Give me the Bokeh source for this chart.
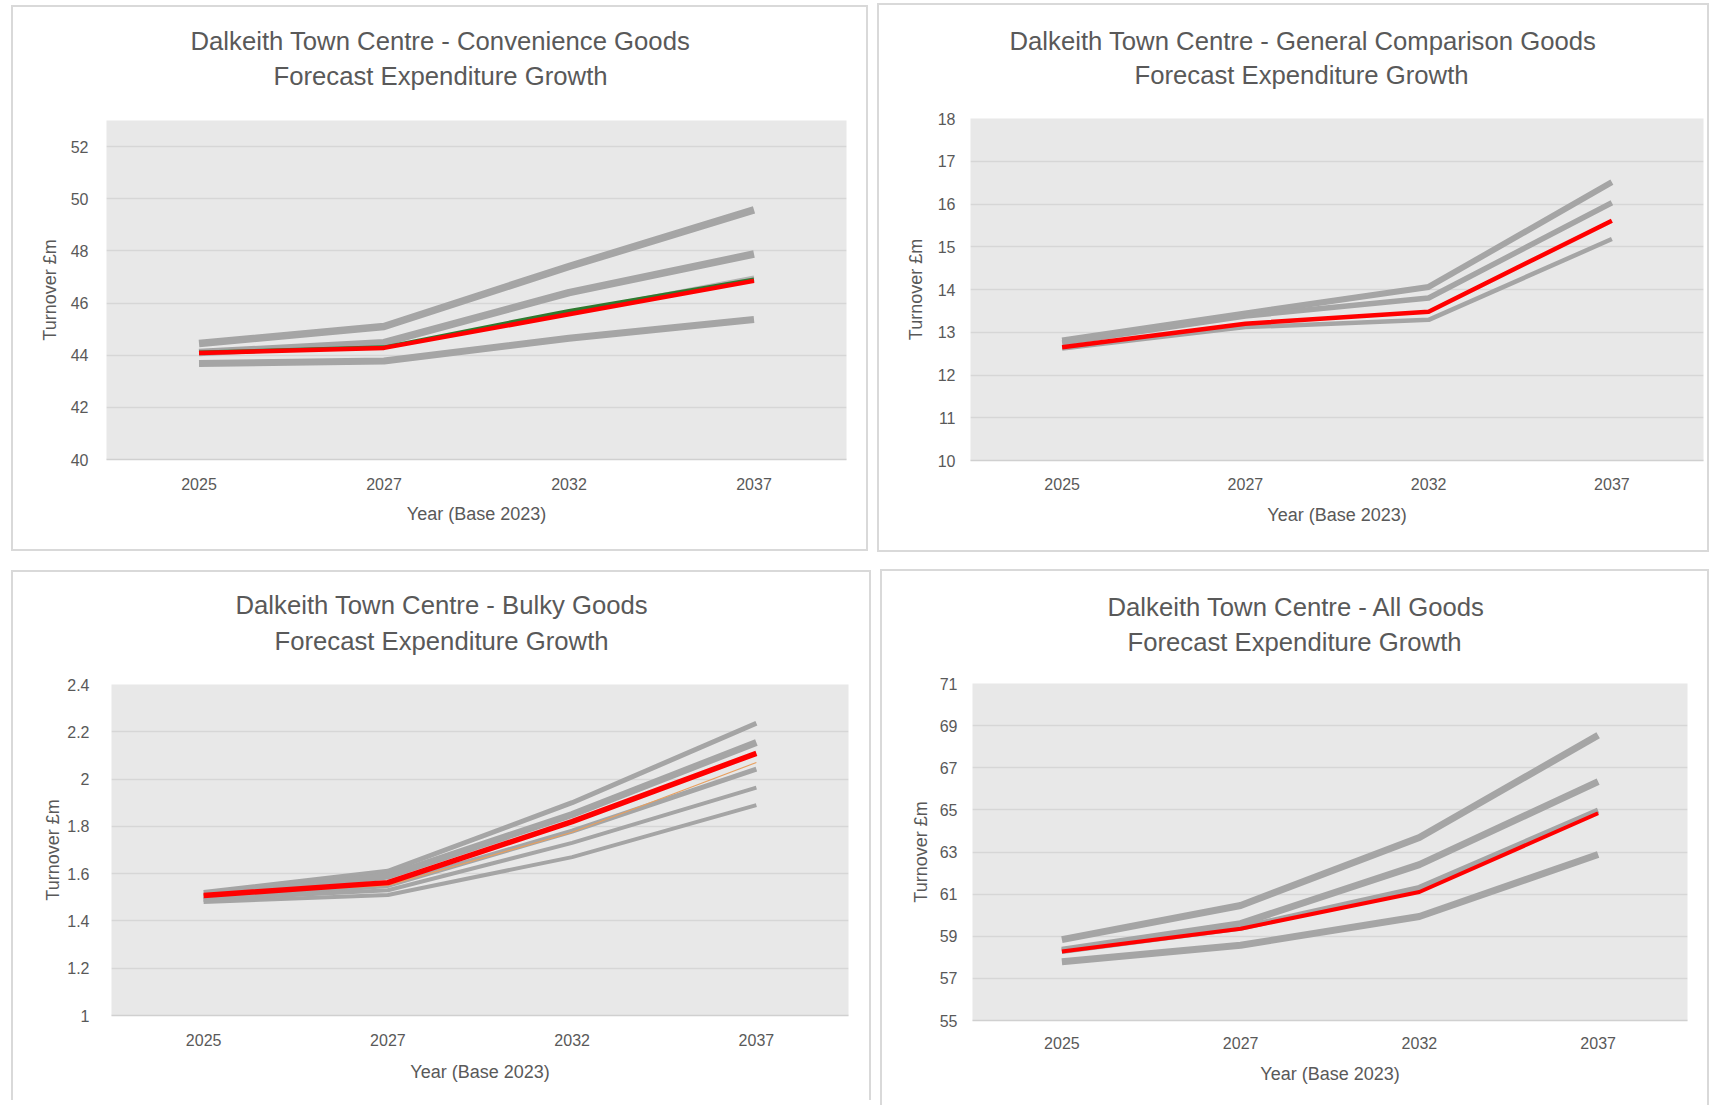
from bokeh.plotting import figure
from bokeh.models import FactorRange, Range1d, FixedTicker, NumeralTickFormatter, Title
from bokeh.layouts import row, column
from bokeh.embed import file_html
from bokeh.resources import INLINE

years = ["2025", "2027", "2032", "2037"]

# Convenience goods turnover (£m)
conv_high = [44.45, 45.10, 47.40, 49.57]
conv_upper = [44.10, 44.48, 46.40, 47.88]
conv_central = [44.10, 44.30, 45.65, 47.00]
conv_alt = [44.10, 44.30, 45.70, 46.90]
conv_base = [44.08, 44.28, 45.57, 46.85]
conv_low = [43.68, 43.78, 44.65, 45.37]
conv_ticks = [40, 42, 44, 46, 48, 50, 52]

# General comparison goods turnover (£m)
comp_high = [12.81, 13.44, 14.06, 16.51]
comp_upper = [12.75, 13.38, 13.80, 16.03]
comp_base = [12.65, 13.20, 13.48, 15.61]
comp_low = [12.62, 13.12, 13.29, 15.18]
comp_ticks = [10, 11, 12, 13, 14, 15, 16, 17, 18]

# Bulky goods turnover (£m)
bulky_high = [1.52, 1.61, 1.90, 2.236]
bulky_upper = [1.50, 1.59, 1.85, 2.155]
bulky_mid = [1.49, 1.55, 1.78, 2.042]
bulky_alt = [1.51, 1.55, 1.775, 2.07]
bulky_lower = [1.49, 1.53, 1.73, 1.964]
bulky_low = [1.48, 1.51, 1.67, 1.89]
bulky_base = [1.508, 1.562, 1.82, 2.109]
bulky_ticks = [1.0, 1.2, 1.4, 1.6, 1.8, 2.0, 2.2, 2.4]

# All goods turnover (£m)
all_high = [58.84, 60.46, 63.69, 68.54]
all_upper = [58.34, 59.60, 62.40, 66.34]
all_central = [58.30, 59.40, 61.30, 64.97]
all_base = [58.28, 59.36, 61.10, 64.84]
all_low = [57.79, 58.57, 59.94, 62.88]
all_ticks = [55, 57, 59, 61, 63, 65, 67, 69, 71]

GREY = "#A5A5A5"
RED = "#FF0000"
TEXT = "#595959"
FONT = "Liberation Sans"
EDGE = "#D9D9D9"
SUBTITLE = "Forecast Expenditure Growth"
TITLE_SIZE = "25.7px"


def stacked_titles(p, heading, offsets, standoffs):
    # two heading lines stacked above the plot frame, centred on the chart box
    sub = Title(text=SUBTITLE, align="left", offset=offsets[1], standoff=standoffs[1],
                text_font=FONT, text_font_size=TITLE_SIZE, text_font_style="normal",
                text_color=TEXT)
    main = Title(text=heading, align="left", offset=offsets[0], standoff=standoffs[0],
                 text_font=FONT, text_font_size=TITLE_SIZE, text_font_style="normal",
                 text_color=TEXT)
    p.add_layout(sub, "above")
    p.add_layout(main, "above")


def make_panel(ticks, y_end, series, size, borders, edge_shadow,
               label_fmt="0", y_tick_gap=12, y_title_gap=8,
               x_tick_gap=12, x_title_gap=11):
    width, height = size
    left, top, right, bottom = borders
    p = figure(
        width=width, height=height,
        x_range=FactorRange(*years),
        y_range=Range1d(ticks[0], y_end),
        output_backend="svg", toolbar_location=None, tools="",
        min_border_left=left, min_border_top=top,
        min_border_right=right, min_border_bottom=bottom,
        background_fill_color="#E8E8E8", border_fill_color=None,
        outline_line_color=None,
        styles={"box-shadow": edge_shadow},
    )
    p.title.visible = False

    p.ygrid.ticker = FixedTicker(ticks=ticks)
    p.yaxis.ticker = FixedTicker(ticks=ticks)
    p.yaxis.formatter = NumeralTickFormatter(format=label_fmt)
    p.ygrid.grid_line_color = "#D6D6D6"
    p.ygrid.grid_line_width = 1.5
    p.xgrid.grid_line_color = None

    for ax in (p.xaxis, p.yaxis):
        ax.major_tick_line_color = None
        ax.minor_tick_line_color = None
        ax.major_label_text_font = FONT
        ax.major_label_text_font_size = "16px"
        ax.major_label_text_color = TEXT
        ax.axis_label_text_font = FONT
        ax.axis_label_text_font_size = "18px"
        ax.axis_label_text_font_style = "normal"
        ax.axis_label_text_color = TEXT
    p.yaxis.axis_line_color = None
    p.xaxis.axis_line_color = "#D0D0D0"
    p.xaxis.axis_line_width = 1.5
    p.yaxis.axis_label = "Turnover £m"
    p.xaxis.axis_label = "Year (Base 2023)"
    p.yaxis.major_label_standoff = y_tick_gap
    p.yaxis.axis_label_standoff = y_title_gap
    p.xaxis.major_label_standoff = x_tick_gap
    p.xaxis.axis_label_standoff = x_title_gap

    for values, color, lw in series:
        p.line(years, values, line_color=color, line_width=lw,
               line_join="round", line_cap="butt")
    return p


ALL_SIDES = f"inset 0 0 0 2px {EDGE}"
NO_BOTTOM = f"inset 2px 2px 0 0 {EDGE}, inset -2px 0 0 0 {EDGE}"

p_conv = make_panel(
    conv_ticks, 53,
    [(conv_high, GREY, 7.5), (conv_upper, GREY, 7.5), (conv_central, "#B5B5B5", 3),
     (conv_low, GREY, 7), (conv_alt, "#2F7A2F", 4), (conv_base, RED, 4.5)],
    (857, 546), (95, 115, 22, 92), ALL_SIDES,
    y_tick_gap=12, y_title_gap=8, x_tick_gap=12, x_title_gap=11)
stacked_titles(p_conv, "Dalkeith Town Centre - Convenience Goods", (84, 167), (-51, 61))
p_conv.margin = (5, 0, 0, 11)

p_comp = make_panel(
    comp_ticks, 18,
    [(comp_high, GREY, 6), (comp_upper, GREY, 5.5), (comp_low, GREY, 4.5),
     (comp_base, RED, 4.5)],
    (832, 549), (93, 115, 6, 92), ALL_SIDES,
    y_tick_gap=9, y_title_gap=9, x_tick_gap=11, x_title_gap=12)
stacked_titles(p_comp, "Dalkeith Town Centre - General Comparison Goods", (39, 164), (-51, 59))
p_comp.margin = (3, 0, 0, 9)

p_bulky = make_panel(
    bulky_ticks, 2.4,
    [(bulky_high, GREY, 5), (bulky_upper, GREY, 7), (bulky_mid, GREY, 5),
     (bulky_lower, GREY, 4), (bulky_low, GREY, 4), (bulky_alt, "#E8A060", 1.2),
     (bulky_base, RED, 5.5)],
    (860, 530), (100, 114, 23, 85), NO_BOTTOM,
    label_fmt="0.[0]", y_tick_gap=16, y_title_gap=1, x_tick_gap=12, x_title_gap=13)
stacked_titles(p_bulky, "Dalkeith Town Centre - Bulky Goods", (124, 163), (-46, 59))
p_bulky.margin = (18, 0, 0, 11)

p_all = make_panel(
    all_ticks, 71,
    [(all_high, GREY, 7), (all_upper, GREY, 7), (all_central, GREY, 6),
     (all_low, GREY, 7), (all_base, RED, 4)],
    (829, 536), (92, 114, 22, 85), NO_BOTTOM,
    y_tick_gap=9, y_title_gap=6, x_tick_gap=10, x_title_gap=12)
stacked_titles(p_all, "Dalkeith Town Centre - All Goods", (135, 155), (-44, 55))
p_all.margin = (17, 0, 0, 9)

page = column(row(p_conv, p_comp), row(p_bulky, p_all), spacing=0)

open("out.html", "w").write(file_html(page, INLINE))
